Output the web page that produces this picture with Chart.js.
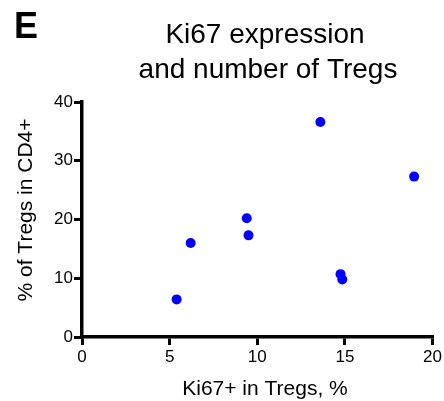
<!DOCTYPE html>
<html>
<head>
<meta charset="utf-8">
<script src="https://cdn.jsdelivr.net/npm/chart.js@4/dist/chart.umd.min.js"></script>
<style>
  html, body { margin: 0; padding: 0; background: #fff; }
  #wrap { width: 444px; height: 401px; }
</style>
</head>
<body>
<div id="wrap"><canvas id="chart" width="444" height="401"></canvas></div>
<script>
// Ki67+ fraction among Tregs vs. Treg share of CD4+ cells, one point per sample
const ki67Pct = [5.4, 6.2, 9.4, 9.5, 13.6, 14.75, 14.85, 18.95];
const tregPct = [6.4, 16.0, 20.2, 17.3, 36.6, 10.7, 9.8, 27.3];
const xTicks = [0, 5, 10, 15, 20];
const yTicks = [0, 10, 20, 30, 40];

const panelLetter = 'E';
const titleLines = ['Ki67 expression', 'and number of Tregs'];
const xTitle = 'Ki67+ in Tregs, %';
const yTitle = '% of Tregs in CD4+';

const FONT = '"Liberation Sans", Arial, Helvetica, sans-serif';

const points = ki67Pct.map((v, i) => ({ x: v, y: tregPct[i] }));

// panel letter, heading and axis titles drawn in canvas space
const labelsPlugin = {
  id: 'labels',
  afterDraw(chart) {
    const ctx = chart.ctx;
    ctx.save();
    ctx.fillStyle = '#000';
    ctx.textBaseline = 'alphabetic';

    ctx.font = 'bold 36px ' + FONT;
    ctx.textAlign = 'left';
    ctx.fillText(panelLetter, 14, 38);

    ctx.font = '28px ' + FONT;
    ctx.textAlign = 'center';
    ctx.fillText(titleLines[0], 265, 43);
    ctx.fillText(titleLines[1], 268, 78);

    ctx.font = '21px ' + FONT;
    ctx.fillText(xTitle, 265, 395);

    ctx.translate(32, 210);
    ctx.rotate(-Math.PI / 2);
    ctx.fillText(yTitle, 0, 0);
    ctx.restore();
  }
};

const axisLine = { display: true, color: '#000', width: 3.5 };
const tickGrid = {
  drawOnChartArea: false,
  drawTicks: true,
  tickLength: 8,
  tickWidth: 3,
  color: '#000',
  lineWidth: 3
};

new Chart(document.getElementById('chart'), {
  type: 'scatter',
  data: {
    datasets: [{
      data: points,
      backgroundColor: '#0000ff',
      borderWidth: 0,
      pointRadius: 5,
      pointHoverRadius: 5
    }]
  },
  options: {
    responsive: false,
    animation: false,
    events: [],
    layout: { padding: { left: 0, top: 102, right: 11, bottom: 0 } },
    plugins: {
      legend: { display: false },
      tooltip: { enabled: false },
      title: { display: false }
    },
    scales: {
      x: {
        type: 'linear',
        min: xTicks[0],
        max: xTicks[xTicks.length - 1],
        afterBuildTicks(scale) { scale.ticks = xTicks.map(v => ({ value: v })); },
        afterFit(scale) { scale.height = 64; },
        border: axisLine,
        grid: tickGrid,
        ticks: { color: '#000', font: { family: FONT, size: 17 }, padding: 2, maxRotation: 0 }
      },
      y: {
        type: 'linear',
        min: yTicks[0],
        max: yTicks[yTicks.length - 1],
        afterBuildTicks(scale) { scale.ticks = yTicks.map(v => ({ value: v })); },
        afterFit(scale) { scale.width = 82; },
        border: axisLine,
        grid: tickGrid,
        ticks: { color: '#000', font: { family: FONT, size: 17 }, padding: 1 }
      }
    }
  },
  plugins: [labelsPlugin]
});
</script>
</body>
</html>
